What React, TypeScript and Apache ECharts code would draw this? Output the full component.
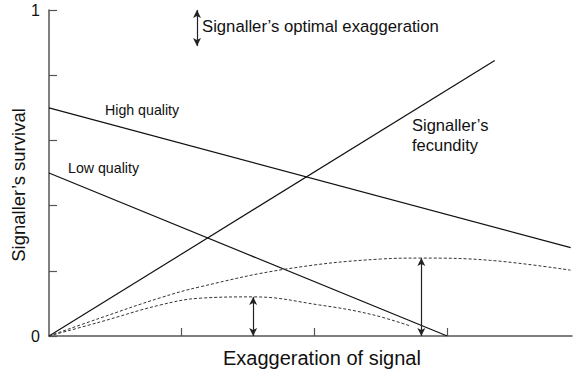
import React, { useEffect, useRef } from "react";
import * as echarts from "echarts";

const highQuality: [number, number][] = [[0, 0.70], [3.93, 0.271]];
const lowQuality: [number, number][] = [[0, 0.5], [3.0, 0]];
const fecundity: [number, number][] = [[0, 0], [3.358, 0.845]];
const highProduct: [number, number][] = [
  [0, 0], [0.385, 0.055], [0.837, 0.117], [1.139, 0.151], [1.78, 0.205],
  [2.496, 0.236], [2.805, 0.239], [3.326, 0.232], [3.929, 0.202],
];
const lowProduct: [number, number][] = [
  [0, 0], [0.385, 0.043], [0.837, 0.095], [1.139, 0.116], [1.538, 0.12],
  [2.04, 0.095], [2.42, 0.067], [2.72, 0.031],
];
const optimumHigh = 2.805;
const optimumLow = 1.538;
const yTicks = [0, 0.2, 0.4, 0.6, 0.8, 1];
const yLabels = [0, 1];
const xTicks = [1, 2, 3];

const FONT = "Liberation Sans, Arial, sans-serif";

export default function App() {
  const ref = useRef<HTMLDivElement>(null);
  useEffect(() => {
    const chart = echarts.init(ref.current!, null, { renderer: "svg" });
    const solid = { color: "#111", width: 1.2 };
    const dashed = { color: "#333", width: 1, type: [3, 2] as number[] };
    chart.setOption({
      animation: false,
      grid: { left: 49, top: 10, right: 2, bottom: 39 },
      xAxis: {
        type: "value",
        min: 0,
        max: 3.94,
        axisLine: { lineStyle: { color: "#555", width: 1.5 } },
        axisTick: { show: true, inside: true, length: 8, customValues: xTicks, lineStyle: { color: "#555", width: 1.2 } },
        axisLabel: { show: false },
        splitLine: { show: false },
      },
      yAxis: {
        type: "value",
        min: 0,
        max: 1,
        axisLine: { show: true, lineStyle: { color: "#555", width: 1.5 } },
        axisTick: { show: true, inside: true, length: 8, customValues: yTicks, lineStyle: { color: "#555", width: 1.2 } },
        axisLabel: { show: true, customValues: yLabels, color: "#111", fontSize: 16, fontFamily: FONT, margin: 9 },
        splitLine: { show: false },
      },
      series: [
        { type: "line", data: highQuality, symbol: "none", lineStyle: solid, silent: true },
        { type: "line", data: lowQuality, symbol: "none", lineStyle: solid, silent: true },
        { type: "line", data: fecundity, symbol: "none", lineStyle: solid, silent: true },
        { type: "line", data: highProduct, symbol: "none", smooth: 0.4, lineStyle: dashed, silent: true },
        {
          type: "line", data: lowProduct, symbol: "none", smooth: 0.4, lineStyle: dashed, silent: true,
          markLine: {
            silent: true,
            symbol: ["arrow", "arrow"],
            symbolSize: [6, 8],
            label: { show: false },
            lineStyle: { color: "#222", width: 1.2, type: "solid" },
            data: [
              [{ coord: [optimumLow, 0] }, { coord: [optimumLow, lowProduct[4][1]] }],
              [{ coord: [optimumHigh, 0] }, { coord: [optimumHigh, highProduct[6][1]] }],
              [{ x: 197, y: 10 }, { x: 197, y: 46 }],
            ],
          },
        },
      ],
      graphic: [
        { type: "text", left: 202, top: 18, style: { text: "Signaller\u2019s optimal exaggeration", font: `16.7px ${FONT}`, fill: "#111" } },
        { type: "text", left: 105, top: 103, style: { text: "High quality", font: `14.2px ${FONT}`, fill: "#111" } },
        { type: "text", left: 68, top: 161, style: { text: "Low quality", font: `14.2px ${FONT}`, fill: "#111" } },
        { type: "text", left: 412, top: 115, style: { text: "Signaller\u2019s\nfecundity", font: `16.5px ${FONT}`, lineHeight: 20, fill: "#111" } },
        { type: "text", left: 223, top: 348, style: { text: "Exaggeration of signal", font: `20px ${FONT}`, fill: "#111" } },
        {
          type: "text", x: 18, y: 185, rotation: Math.PI / 2,
          style: { text: "Signaller\u2019s survival", font: `18.5px ${FONT}`, fill: "#111", align: "center", verticalAlign: "middle" },
        },
      ],
    });
    return () => chart.dispose();
  }, []);
  return <div ref={ref} style={{ width: 574, height: 375, position: "fixed", left: 0, top: 0, background: "#fff" }} />;
}
